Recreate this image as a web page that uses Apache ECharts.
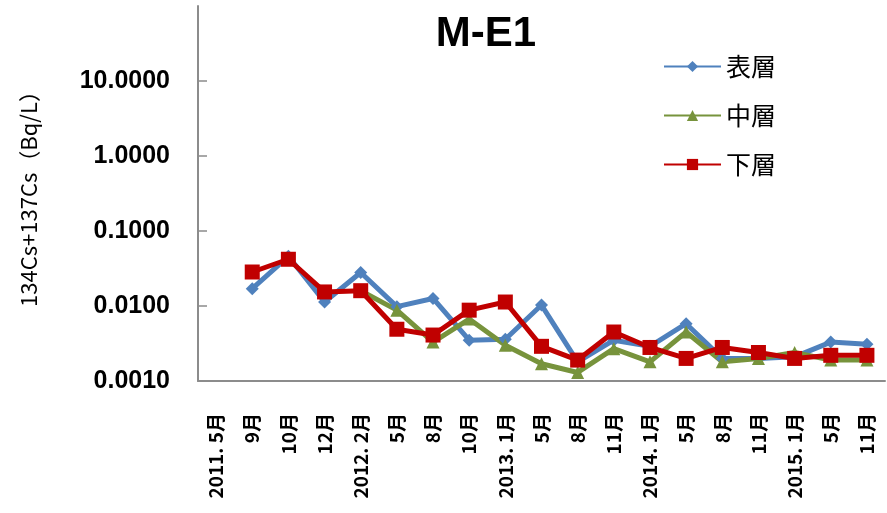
<!DOCTYPE html>
<html>
<head>
<meta charset="utf-8">
<script src="https://cdn.jsdelivr.net/npm/echarts@6/dist/echarts.min.js"></script>
<style>
  html, body { margin: 0; padding: 0; background: #fff; }
  #chart { width: 887px; height: 513px; }
</style>
</head>
<body>
<div id="chart"></div>
<script>
  // 採取時期
  var months = ["2011. 5月", "9月", "10月", "12月", "2012. 2月", "5月", "8月", "10月",
    "2013. 1月", "5月", "8月", "11月", "2014. 1月", "5月", "8月", "11月",
    "2015. 1月", "5月", "11月"];

  // 表層
  var surface = [null, 0.0170, 0.046, 0.0113, 0.028, 0.0098, 0.0126, 0.0035,
    0.0036, 0.0103, 0.0018, 0.0035, 0.0029, 0.0058, 0.0020, 0.0020,
    0.0021, 0.0033, 0.0031];
  // 中層
  var middle = [null, null, null, null, 0.0160, 0.0088, 0.0033, 0.0067,
    0.0030, 0.0017, 0.0013, 0.0027, 0.0018, 0.0045, 0.0018, 0.0020,
    0.0024, 0.0019, 0.0019];
  // 下層
  var bottom = [null, 0.0284, 0.042, 0.0154, 0.0160, 0.0049, 0.0041, 0.0088,
    0.0113, 0.0029, 0.0019, 0.0045, 0.0028, 0.0020, 0.0028, 0.0024,
    0.0020, 0.0022, 0.0022];

  var myChart = echarts.init(document.getElementById("chart"));

  var mkSeries = function(name, data, color, symbol, size) {
    return {
      name: name,
      type: "line",
      data: data,
      symbol: symbol,
      symbolSize: size,
      showAllSymbol: true,
      connectNulls: false,
      lineStyle: { color: color, width: 5 },
      itemStyle: { color: color },
      animation: false
    };
  };

  var option = {
    backgroundColor: "#fff",
    title: {
      text: "M-E1",
      left: 481,
      textAlign: "center",
      top: 8,
      textStyle: { fontFamily: "Liberation Sans", fontWeight: "bold", fontSize: 42, color: "#000" }
    },
    legend: {
      orient: "vertical",
      left: 658,
      top: 49,
      itemWidth: 57,
      itemHeight: 14,
      itemGap: 24,
      textStyle: { fontFamily: "Noto Sans CJK JP", fontSize: 25, color: "#000" },
      data: ["表層", "中層", "下層"]
    },
    grid: { left: 198, right: 2, top: 6, bottom: 132 },
    xAxis: {
      type: "category",
      data: months,
      axisLine: { lineStyle: { color: "#8c8c8c", width: 2 } },
      axisTick: { inside: true, length: 6, lineStyle: { color: "#8c8c8c", width: 1.5 } },
      axisLabel: {
        rotate: 90,
        interval: 0,
        margin: 32,
        fontFamily: "Noto Sans CJK JP",
        fontWeight: "bold",
        fontSize: 19,
        color: "#000"
      }
    },
    yAxis: {
      type: "log",
      logBase: 10,
      min: 0.001,
      max: 100,
      name: "134Cs+137Cs（Bq/L）",
      nameLocation: "middle",
      nameGap: 158,
      nameRotate: 90,
      nameTextStyle: { fontFamily: "Noto Sans CJK JP", fontSize: 22, color: "#000" },
      splitLine: { show: false },
      axisLine: { show: true, lineStyle: { color: "#8c8c8c", width: 2 } },
      axisTick: { show: true, inside: true, length: 9, lineStyle: { color: "#8c8c8c", width: 1.5 } },
      axisLabel: {
        margin: 28,
        showMaxLabel: false,
        fontFamily: "Liberation Sans",
        fontWeight: "bold",
        fontSize: 25,
        color: "#000",
        formatter: function(v) { return v.toFixed(4); }
      }
    },
    series: [
      mkSeries("表層", surface, "#4f81bd", "diamond", 13),
      mkSeries("中層", middle, "#77933c", "triangle", 13),
      mkSeries("下層", bottom, "#c00000", "rect", 15)
    ]
  };
  myChart.setOption(option);
</script>
</body>
</html>
